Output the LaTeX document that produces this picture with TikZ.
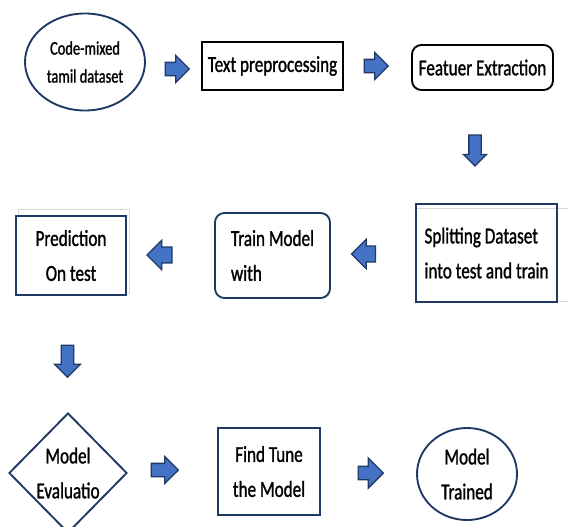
\documentclass[tikz,border=0pt]{standalone}
\usepackage{fontspec}
\setmainfont{Carlito}[FakeStretch=0.75, FakeBold=1.2]
\usetikzlibrary{shapes.geometric,shapes.arrows}
\definecolor{navy}{HTML}{203864}
\definecolor{arrfill}{HTML}{4472C4}
\definecolor{ghost}{HTML}{D9D9D9}
\begin{document}
\begin{tikzpicture}[
    font=\fontsize{19.5}{29.8}\selectfont,
    box/.style={draw=navy, line width=1.6pt, inner sep=0pt, align=center},
    rbox/.style={box, rounded corners=8pt},
    oval/.style={box, ellipse},
    decision/.style={box, diamond},
    arr/.style={single arrow, draw=navy, fill=arrfill, line width=1.1pt, inner sep=0.18cm,
      minimum height=0.72cm, minimum width=0.78cm, single arrow head extend=0.21cm},
    ghostline/.style={draw=ghost, line width=0.6pt},
  ]
  \useasboundingbox (0,0) rectangle (17.04,-15.78);
  % first row: data to features
  \node[oval, minimum width=3.6cm, minimum height=2.91cm, font=\fontsize{16.4}{23.9}\selectfont]
    (dataset) at (2.55,-1.86) {Code-mixed\\tamil dataset};
  \node[arr] (arr-a) at (5.22,-2.07) {};
  \node[box, draw=black, line width=2pt, minimum width=4.23cm, minimum height=1.44cm]
    (prep) at (8.175,-1.98) {Text preprocessing};
  \node[arr] (arr-b) at (11.19,-1.98) {};
  \node[rbox, draw=black, minimum width=4.23cm, minimum height=1.35cm]
    (feat) at (14.475,-2.025) {Featuer Extraction};
  \node[arr, shape border rotate=270, inner sep=0.165cm, minimum height=0.93cm,
    minimum width=0.66cm, single arrow head extend=0.165cm] (arr-c) at (14.25,-4.425) {};
  % second row: split, train, predict
  \draw[ghostline] (12.48,-6.24) -- (17.04,-6.24);
  \draw[ghostline] (12.48,-9.03) -- (17.04,-9.03);
  \node[box, align=left, minimum width=4.23cm, minimum height=2.94cm]
    (split) at (14.595,-7.59) {Splitting Dataset\\into test and train};
  \node[arr, shape border rotate=180, inner sep=0.22cm, minimum height=0.66cm,
    minimum width=0.84cm, single arrow head extend=0.2cm] (arr-d) at (11.025,-7.62) {};
  \node[rbox, align=left, minimum width=3.45cm, minimum height=2.55cm]
    (train) at (8.175,-7.665) {Train Model\\with};
  \node[arr, shape border rotate=180, inner sep=0.22cm, minimum height=0.75cm,
    minimum width=0.84cm, single arrow head extend=0.2cm] (arr-e) at (4.905,-7.65) {};
  \draw[ghostline] (0.54,-6.27) rectangle (3.87,-8.79);
  \node[box, fill=white, minimum width=3.3cm, minimum height=2.37cm]
    (pred) at (2.13,-7.665) {Prediction\\On test};
  \node[arr, shape border rotate=270, inner sep=0.17cm, minimum height=0.96cm,
    minimum width=0.75cm, single arrow head extend=0.2cm] (arr-f) at (2.025,-10.74) {};
  % third row: evaluate and tune
  \node[decision, minimum width=3.54cm, minimum height=3.6cm]
    (eval) at (2.04,-14.19) {Model\\Evaluatio};
  \node[arr, minimum height=0.81cm, minimum width=0.8cm] (arr-g) at (4.845,-14.1) {};
  \node[box, minimum width=3.06cm, minimum height=2.61cm]
    (tune) at (8.07,-14.145) {Find Tune\\the Model};
  \node[arr, minimum height=0.75cm, minimum width=0.9cm, single arrow head extend=0.25cm]
    (arr-h) at (11.025,-14.19) {};
  \node[oval, minimum width=3.0cm, minimum height=2.76cm]
    (trained) at (14.01,-14.22) {Model\\Trained};
\end{tikzpicture}
\end{document}
